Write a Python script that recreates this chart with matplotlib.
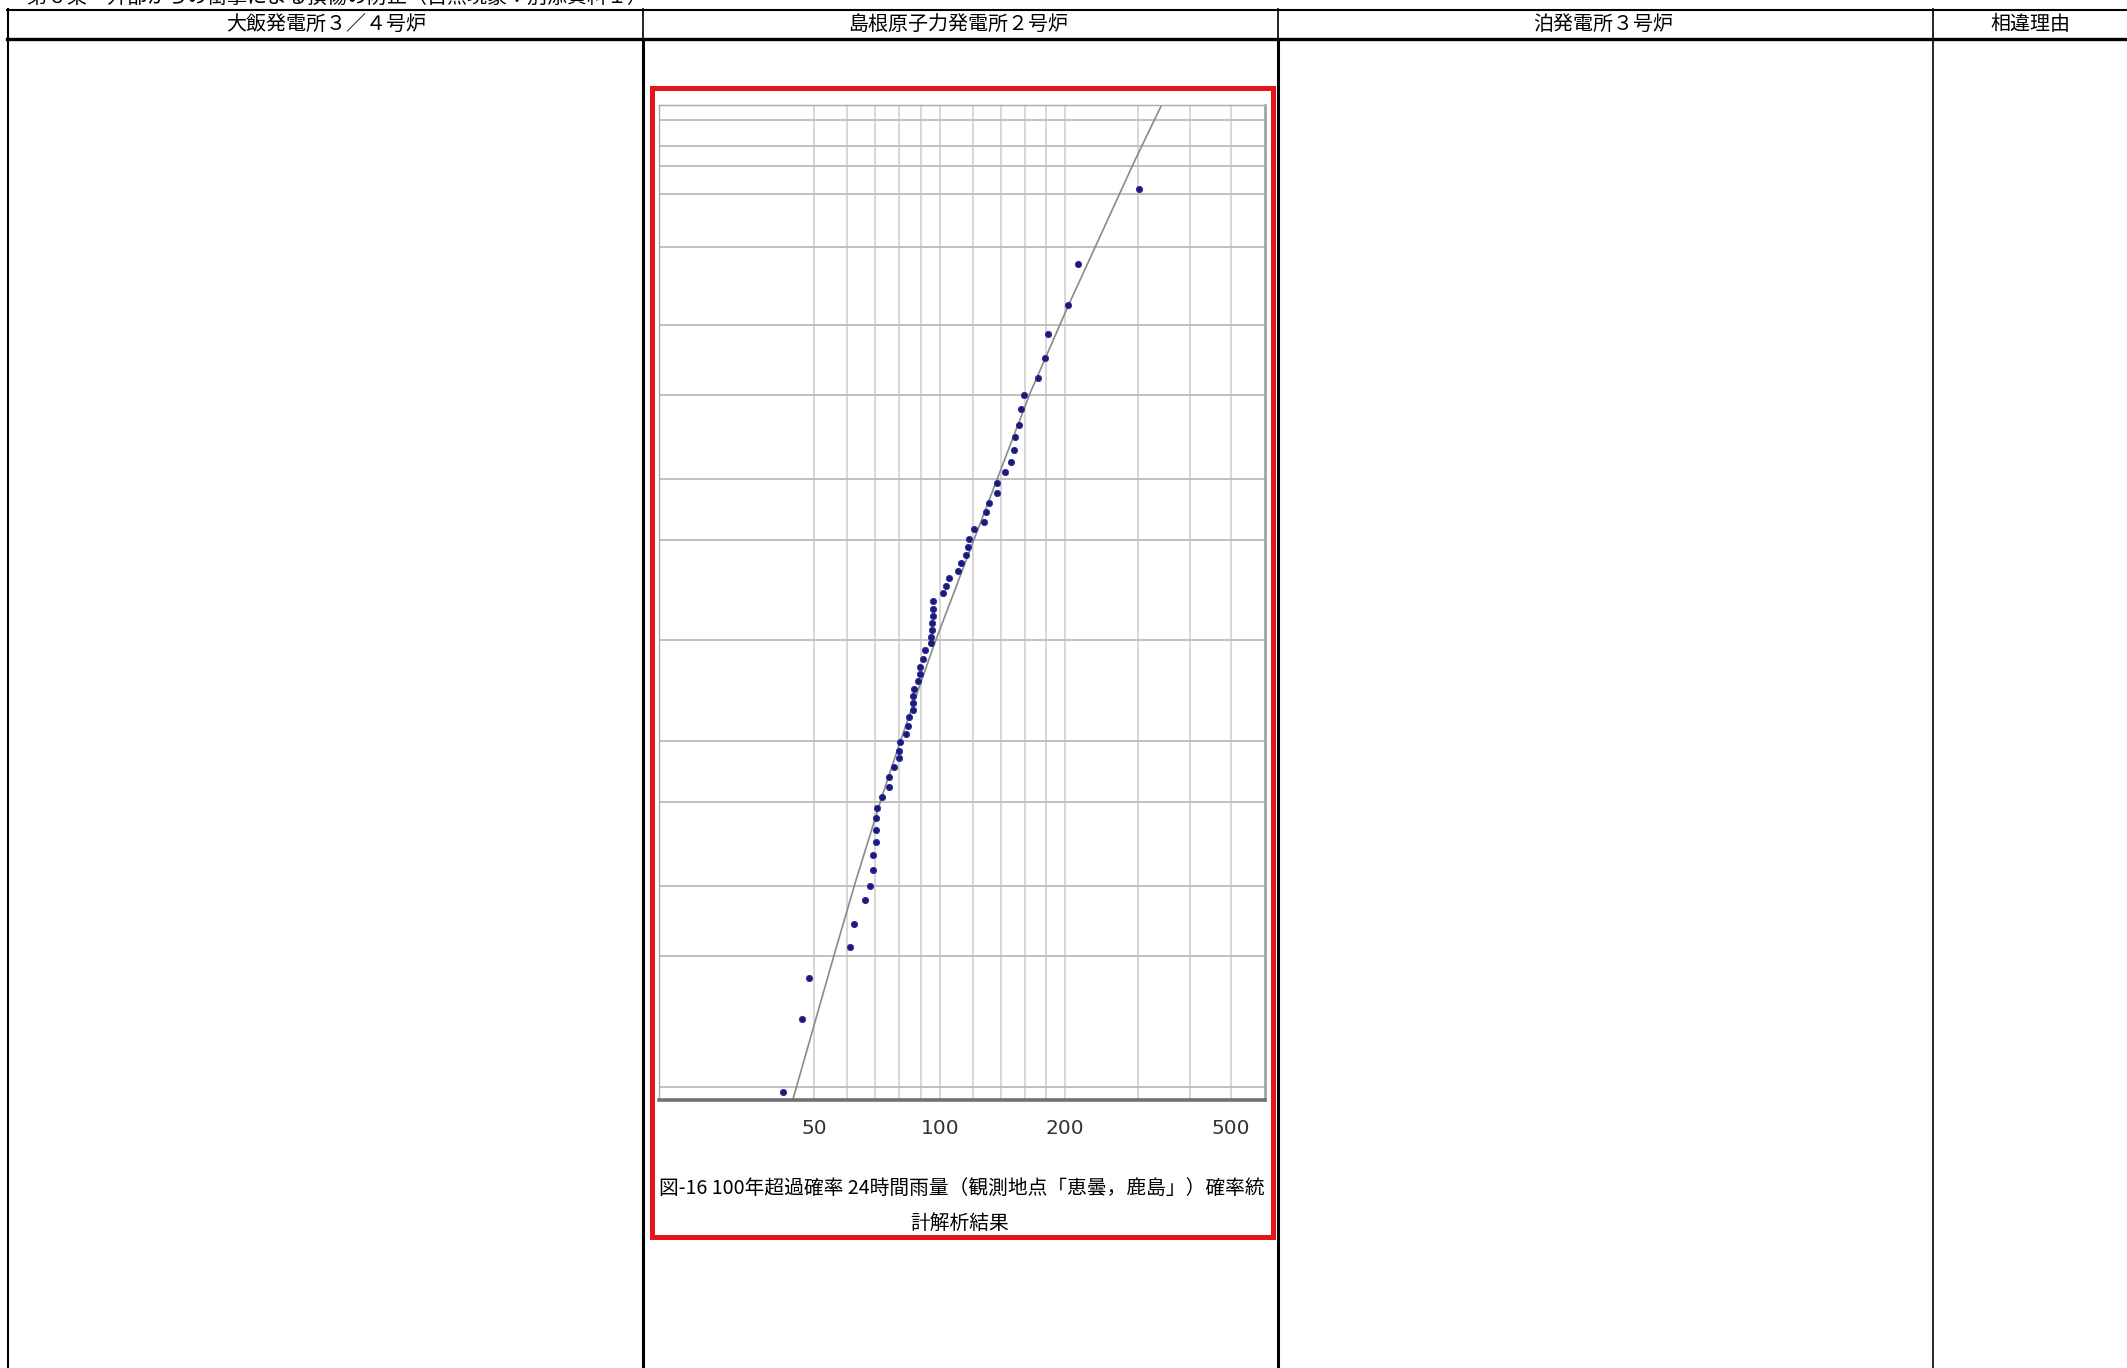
import math
import numpy as np
import matplotlib
matplotlib.use("Agg")
import matplotlib.pyplot as plt
from matplotlib.lines import Line2D
from matplotlib.patches import Rectangle
from matplotlib.ticker import NullLocator

plt.rcParams['font.family'] = ['Noto Sans CJK JP', 'DejaVu Sans']
W, H = 2127, 1368

# 24h rainfall (mm), sorted high -> low, and plotting position (non-exceedance %)
rain = [301.6, 215.3, 203.1, 182.4, 179.4, 172.1, 159.3, 156.6, 155.4, 152.0, 151.2, 148.7,
        143.9, 137.2, 137.2, 131.7, 129.3, 127.9, 120.6, 117.9, 116.9, 115.8, 112.6, 110.4,
        105.4, 103.5, 101.6, 96.6, 96.6, 96.3, 96.1, 96.1, 95.5, 95.4, 92.3, 91.0, 89.8, 89.8,
        88.8, 86.9, 86.5, 86.3, 86.1, 84.5, 83.9, 83.1, 80.4, 79.7, 79.7, 77.5, 75.4, 75.4,
        72.7, 70.9, 70.3, 70.3, 70.3, 69.2, 69.2, 68.1, 66.3, 62.4, 60.8, 48.5, 46.7, 42.0]
prob = [99.071, 97.527, 96.001, 94.515, 92.961, 91.420, 89.972, 88.628, 86.940, 85.530,
        83.970, 82.439, 80.974, 79.378, 77.953, 76.280, 74.856, 73.217, 71.897, 70.221,
        68.760, 67.269, 65.749, 64.204, 62.773, 61.185, 59.719, 58.219, 56.584, 55.082,
        53.697, 52.183, 50.728, 49.418, 47.921, 46.158, 44.567, 43.067, 41.699, 40.019,
        38.675, 37.167, 35.854, 34.442, 32.788, 31.296, 29.888, 28.280, 26.955, 25.427,
        23.882, 22.295, 20.771, 19.167, 17.696, 16.157, 14.637, 13.137, 11.574, 10.028,
        8.803, 6.990, 5.502, 3.937, 2.422, 0.925]
# fitted distribution curve
fit_rain = [44.4, 55.9, 63.0, 72.7, 80.4, 96.6, 121.0, 164.9, 204.3, 235.5, 294.5, 341.1]
fit_prob = [0.829, 5.108, 10.589, 20.771, 29.888, 48.711, 70.112, 90.155, 96.019, 97.956,
            99.388, 99.738]

grid_rain = [50, 60, 70, 80, 90, 100, 120, 140, 160, 180, 200, 300, 400, 500]
grid_prob = [1, 5, 10, 20, 30, 50, 70, 80, 90, 95, 98, 99, 99.333, 99.5, 99.667]
tick_rain = [50, 100, 200, 500]

page_title = "第６条　外部からの衝撃による損傷の防止（自然現象：別添資料１）"
headers = ["大飯発電所３／４号炉", "島根原子力発電所２号炉", "泊発電所３号炉", "相違理由"]
caption1 = "図-16 100年超過確率 24時間雨量（観測地点「恵曇，鹿島」）確率統"
caption2 = "計解析結果"

# normal probability scale (percent <-> standard normal quantile)
_cdf = np.vectorize(lambda z: 0.5 * (1 + math.erf(z / math.sqrt(2))))
_zg = np.linspace(-6, 6, 6001)
_pg = _cdf(_zg)


def fwd(p):
    p = np.clip(np.asarray(p, float) / 100.0, 1e-9, 1 - 1e-9)
    return np.interp(p, _pg, _zg)


def inv(z):
    return _cdf(np.asarray(z, float)) * 100.0


fig = plt.figure(figsize=(W / 100, H / 100), dpi=100)


def hl(y, x0, x1, lw):
    fig.add_artist(Line2D([x0 / W, x1 / W], [1 - y / H] * 2, color="k", lw=lw))


def vl(x, y0, y1, lw):
    fig.add_artist(Line2D([x / W] * 2, [1 - y0 / H, 1 - y1 / H], color="k", lw=lw))


# document table
hl(10, 7, W, 1.5)
hl(39, 7, W, 2.4)
vl(8, 9, H, 1.5)
for x in (643, 1278, 1933):
    vl(x, 9, 39, 1.2)
vl(643, 39, H, 2.2)
vl(1278, 39, H, 2.2)
vl(1933, 39, H, 1.2)

fig.text(27 / W, 1 + 3 / H, page_title, fontsize=14.4, va="center", ha="left")
for cx, s in zip((326, 958, 1603, 2030), headers):
    fig.text(cx / W, 1 - 24.5 / H, s, fontsize=14.4, ha="center", va="center")

# chart
ax = fig.add_axes([659 / W, 1 - 1100 / H, 606 / W, 995 / H])
ax.set_xscale("log")
ax.set_yscale("function", functions=(fwd, inv))
ax.set_xlim(21.2, 604)
ax.set_ylim(0.829, 99.738)
for g in grid_rain:
    ax.axvline(g, color="#d0d0d0", lw=1.2, zorder=0)
for g in grid_prob:
    ax.axhline(g, color="#c0c0c0", lw=1.4, zorder=0)
ax.plot(fit_rain, fit_prob, color="#8a8a8a", lw=1.2, zorder=2)
ax.plot(rain, prob, "o", ms=4.5, color="#1c1c78", mec="#2a2a9a", mew=0.6, zorder=3)
ax.set_xticks(tick_rain)
ax.set_xticklabels([str(t) for t in tick_rain], family="DejaVu Sans", fontsize=14.5,
                   color="#333333")
ax.xaxis.set_minor_locator(NullLocator())
ax.set_yticks([])
ax.yaxis.set_minor_locator(NullLocator())
ax.tick_params(axis="x", length=0, pad=14)
ax.spines["top"].set_color("#a8a8a8"); ax.spines["top"].set_linewidth(1.0)
ax.spines["left"].set_color("#a8a8a8"); ax.spines["left"].set_linewidth(1.0)
ax.spines["right"].set_color("#9a9a9a"); ax.spines["right"].set_linewidth(1.8)
ax.spines["bottom"].set_color("#707070"); ax.spines["bottom"].set_linewidth(2.6)

fig.text(962 / W, 1 - 1188 / H, caption1, fontsize=14.2, ha="center", va="center")
fig.text(960 / W, 1 - 1223 / H, caption2, fontsize=14.2, ha="center", va="center")

fig.add_artist(Rectangle((652 / W, 1 - 1237 / H), 621 / W, 1149 / H, transform=fig.transFigure,
                         fill=False, ec="#e8141c", lw=3.6, zorder=5))

fig.savefig("out.png", dpi=100)
